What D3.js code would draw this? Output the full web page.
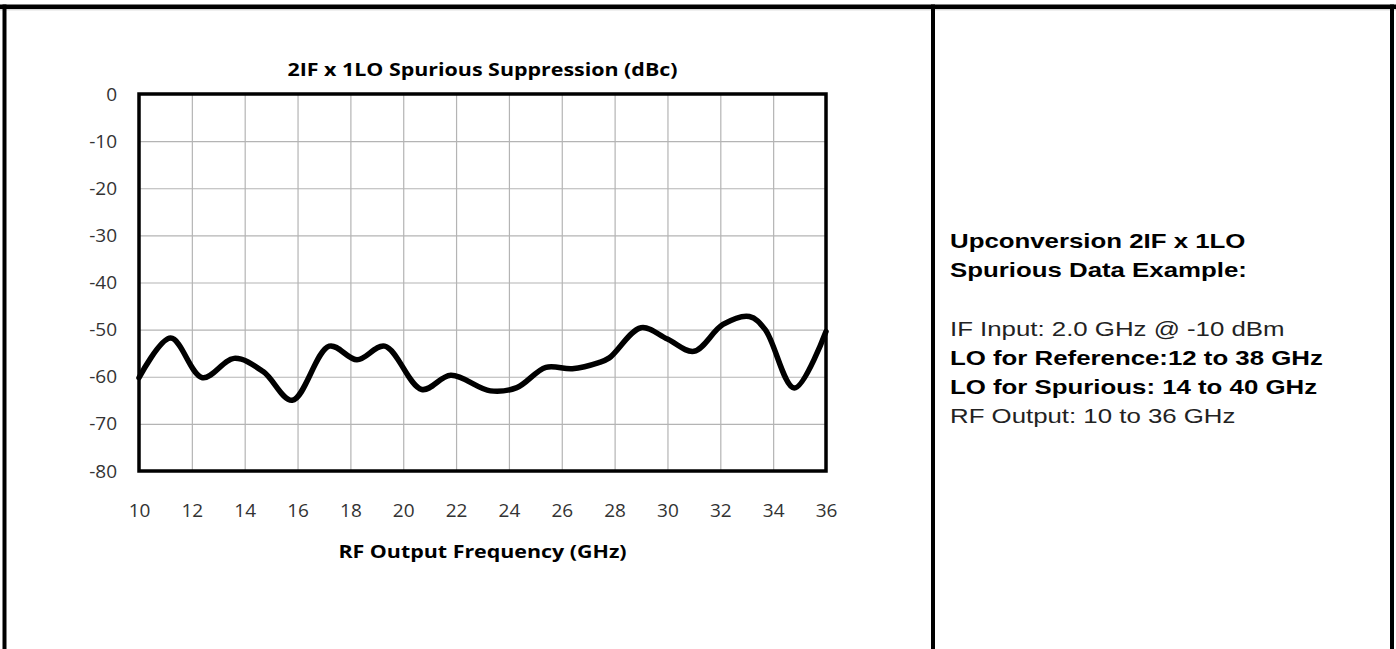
<!DOCTYPE html>
<html>
<head>
<meta charset="utf-8">
<script src="https://cdn.jsdelivr.net/npm/d3@7"></script>
<style>
  html, body { margin: 0; padding: 0; background: #fff; }
  svg { display: block; }
</style>
</head>
<body>
<svg id="chart" width="1396" height="649"></svg>
<script>
// ---- data ----
const freqGHz = [10, 11.2, 12.4, 13.6, 14.7, 15.8, 17.2, 18.25, 19.3, 20.7, 21.8, 23.3, 24.3, 25.4, 26.4, 27.4, 27.8, 29.0, 30.0, 31.0, 32.1, 33.1, 33.7, 34.8, 36];
const suppressionDbc = [-60.2, -51.8, -60.2, -56.1, -58.9, -65.0, -53.5, -56.4, -53.5, -62.7, -59.7, -63.0, -62.3, -58.0, -58.3, -57.0, -56.0, -49.6, -52.0, -54.6, -48.9, -47.2, -50.0, -62.4, -50.4];
const xTicks = [10, 12, 14, 16, 18, 20, 22, 24, 26, 28, 30, 32, 34, 36];
const yTicks = [0, -10, -20, -30, -40, -50, -60, -70, -80];
const chartTitle = "2IF x 1LO Spurious Suppression (dBc)";
const xTitle = "RF Output Frequency (GHz)";
const noteLines = [
  { text: "Upconversion 2IF x 1LO", bold: true },
  { text: "Spurious Data Example:", bold: true },
  { text: "", bold: false },
  { text: "IF Input: 2.0 GHz @ -10 dBm", bold: false },
  { text: "LO for Reference:12 to 38 GHz", bold: true },
  { text: "LO for Spurious: 14 to 40 GHz", bold: true },
  { text: "RF Output: 10 to 36 GHz", bold: false }
];

// ---- layout ----
const svg = d3.select("#chart");
const W = 1396, H = 649;
const plot = { left: 139, right: 826, top: 94, bottom: 471 };

// page frame
const frame = svg.append("g");
frame.append("line").attr("x1", 0).attr("x2", W).attr("y1", 6.8).attr("y2", 6.8)
  .attr("stroke", "#000").attr("stroke-width", 4.5);
frame.append("line").attr("x1", 0).attr("x2", W).attr("y1", 9.8).attr("y2", 9.8)
  .attr("stroke", "#c8c8c8").attr("stroke-width", 1);
frame.append("line").attr("x1", 4.5).attr("x2", 4.5).attr("y1", 4.5).attr("y2", H)
  .attr("stroke", "#000").attr("stroke-width", 4);
frame.append("line").attr("x1", 933).attr("x2", 933).attr("y1", 4.5).attr("y2", H)
  .attr("stroke", "#000").attr("stroke-width", 4);
frame.append("line").attr("x1", 1392).attr("x2", 1392).attr("y1", 4.5).attr("y2", H)
  .attr("stroke", "#000").attr("stroke-width", 4);

// scales
const x = d3.scaleLinear().domain([10, 36]).range([plot.left, plot.right]);
const y = d3.scaleLinear().domain([-80, 0]).range([plot.bottom, plot.top]);

const chartFont = "'Open Sans', 'Noto Sans', sans-serif";

// gridlines
const grid = svg.append("g");
grid.append("g")
  .attr("transform", `translate(0,${plot.bottom})`)
  .call(d3.axisBottom(x).tickValues(xTicks).tickSize(-(plot.bottom - plot.top)).tickFormat(""))
  .call(g => g.select(".domain").remove())
  .call(g => g.selectAll("line").attr("stroke", "#b4b4b4").attr("stroke-width", 1.2));
grid.append("g")
  .attr("transform", `translate(${plot.left},0)`)
  .call(d3.axisLeft(y).tickValues(yTicks).tickSize(-(plot.right - plot.left)).tickFormat(""))
  .call(g => g.select(".domain").remove())
  .call(g => g.selectAll("line").attr("stroke", "#b4b4b4").attr("stroke-width", 1.2));

// data line
const line = d3.line()
  .x((d, i) => x(freqGHz[i]))
  .y(d => y(d))
  .curve(d3.curveCatmullRom.alpha(0.5));
svg.append("path")
  .datum(suppressionDbc)
  .attr("d", line)
  .attr("fill", "none")
  .attr("stroke", "#000")
  .attr("stroke-width", 5.5)
  .attr("stroke-linejoin", "round")
  .attr("stroke-linecap", "round");

// plot frame
svg.append("rect")
  .attr("x", plot.left).attr("y", plot.top)
  .attr("width", plot.right - plot.left).attr("height", plot.bottom - plot.top)
  .attr("fill", "none").attr("stroke", "#000").attr("stroke-width", 3.5);

// axis labels (hyphen-minus as in the source)
const fmt = d => String(d);
const xAxis = svg.append("g")
  .attr("transform", `translate(0,${plot.bottom})`)
  .call(d3.axisBottom(x).tickValues(xTicks).tickSize(0).tickPadding(33).tickFormat(fmt));
xAxis.select(".domain").remove();
xAxis.selectAll("text").attr("font-family", chartFont).attr("font-size", 19).attr("fill", "#333");

const yAxis = svg.append("g")
  .attr("transform", `translate(${plot.left},0)`)
  .call(d3.axisLeft(y).tickValues(yTicks).tickSize(0).tickPadding(22).tickFormat(fmt));
yAxis.select(".domain").remove();
yAxis.selectAll("text").attr("font-family", chartFont).attr("font-size", 19).attr("fill", "#333");

// helper: horizontally stretched text
function stretchedText(parent, tx, ty, sx) {
  return parent.append("g").attr("transform", `translate(${tx},${ty}) scale(${sx},1)`).append("text");
}

// titles
stretchedText(svg, (plot.left + plot.right) / 2, 76, 1.19)
  .attr("text-anchor", "middle")
  .attr("font-family", chartFont).attr("font-weight", "bold").attr("font-size", 18)
  .attr("fill", "#000")
  .text(chartTitle);
stretchedText(svg, (plot.left + plot.right) / 2, 558, 1.19)
  .attr("text-anchor", "middle")
  .attr("font-family", chartFont).attr("font-weight", "bold").attr("font-size", 18)
  .attr("fill", "#000")
  .text(xTitle);

// note text
const note = svg.append("g").attr("font-family", "'Liberation Sans', Arial, sans-serif").attr("font-size", 21);
noteLines.forEach((d, i) => {
  stretchedText(note, 950, 248 + i * 29.2, 1.23)
    .attr("font-weight", d.bold ? "bold" : "normal")
    .attr("fill", d.bold ? "#000" : "#222")
    .text(d.text);
});
</script>
</body>
</html>
